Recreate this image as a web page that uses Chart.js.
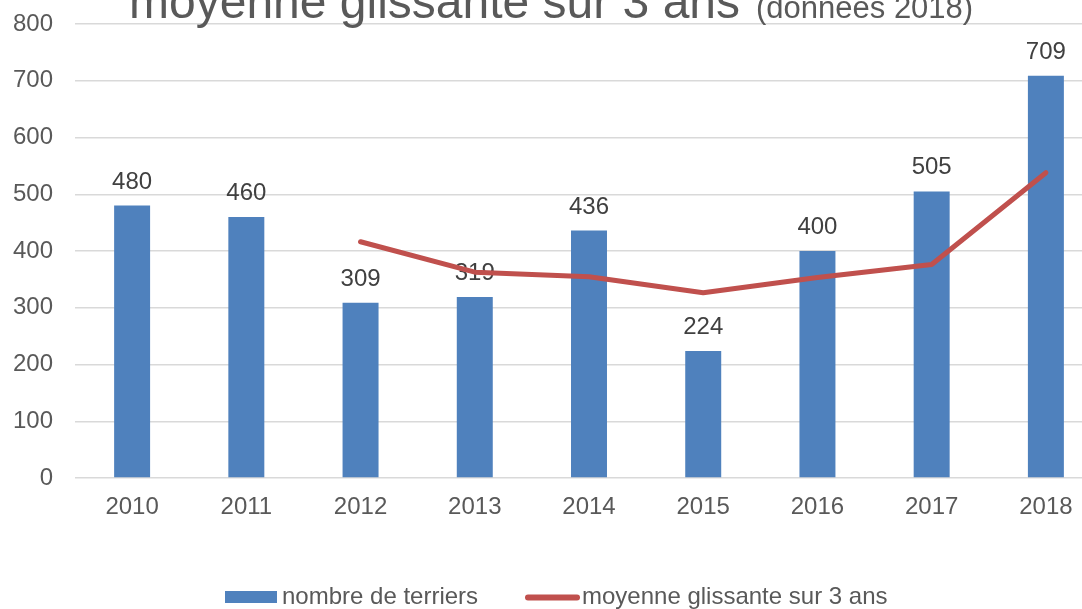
<!DOCTYPE html>
<html>
<head>
<meta charset="utf-8">
<script src="https://cdn.jsdelivr.net/npm/chart.js@4.4.1/dist/chart.umd.min.js"></script>
<style>
  html, body { margin: 0; padding: 0; background: #ffffff; overflow: hidden; width: 1082px; height: 609px; }
  #wrap { position: absolute; left: 0; top: 0; width: 1103px; height: 609px; }
</style>
</head>
<body>
<div id="wrap"><canvas id="c"></canvas></div>
<script>
const categories = ['2010', '2011', '2012', '2013', '2014', '2015', '2016', '2017', '2018'];
const burrowCounts = [480, 460, 309, 319, 436, 224, 400, 505, 709];
const movingAverage = [null, null, 416.3, 362.7, 354.7, 326.3, 353.3, 376.3, 538];
const yTicks = [0, 100, 200, 300, 400, 500, 600, 700, 800];
const seriesNames = ['nombre de terriers', 'moyenne glissante sur 3 ans'];
const titleMain = 'moyenne glissante sur 3 ans';
const titleSub = '(données 2018)';

const FONT = '"Liberation Sans", Arial, sans-serif';
const BLUE = '#4f81bd';
const RED = '#c0504d';
const GREY = '#595959';

const barLabels = {
  id: 'barLabels',
  afterDatasetDraw(chart, args) {
    if (args.index !== 0) return;
    const ctx = chart.ctx;
    const meta = chart.getDatasetMeta(0);
    ctx.save();
    ctx.font = '24px ' + FONT;
    ctx.fillStyle = '#404040';
    ctx.textAlign = 'center';
    ctx.textBaseline = 'alphabetic';
    meta.data.forEach((bar, i) => {
      ctx.fillText(String(burrowCounts[i]), bar.x, bar.y - 17);
    });
    ctx.restore();
  }
};

const decor = {
  id: 'decor',
  afterDraw(chart) {
    const ctx = chart.ctx;
    ctx.save();
    ctx.fillStyle = GREY;
    ctx.textAlign = 'left';
    ctx.textBaseline = 'alphabetic';
    ctx.font = '48px ' + FONT;
    ctx.fillText(titleMain, 129, 18);
    ctx.font = '31px ' + FONT;
    ctx.fillText(titleSub, 756, 18);
    ctx.fillStyle = BLUE;
    ctx.fillRect(225, 591, 52, 12);
    ctx.strokeStyle = RED;
    ctx.lineWidth = 6;
    ctx.lineCap = 'round';
    ctx.beginPath();
    ctx.moveTo(528, 597.5);
    ctx.lineTo(577, 597.5);
    ctx.stroke();
    ctx.fillStyle = GREY;
    ctx.font = '24px ' + FONT;
    ctx.fillText(seriesNames[0], 282, 604);
    ctx.fillText(seriesNames[1], 582, 604);
    ctx.restore();
  }
};

new Chart(document.getElementById('c'), {
  type: 'bar',
  data: {
    labels: categories,
    datasets: [
      {
        type: 'bar',
        label: seriesNames[0],
        data: burrowCounts,
        backgroundColor: BLUE,
        borderWidth: 0,
        categoryPercentage: 1,
        barPercentage: 0.315,
        order: 1
      },
      {
        type: 'line',
        label: seriesNames[1],
        data: movingAverage,
        borderColor: RED,
        backgroundColor: RED,
        borderWidth: 5,
        borderCapStyle: 'round',
        borderJoinStyle: 'round',
        pointRadius: 0,
        pointHoverRadius: 0,
        tension: 0,
        spanGaps: false,
        order: 0
      }
    ]
  },
  options: {
    responsive: true,
    maintainAspectRatio: false,
    animation: false,
    events: [],
    layout: { padding: { top: 24, right: 0, bottom: 51, left: 0 } },
    plugins: {
      legend: { display: false },
      title: { display: false },
      tooltip: { enabled: false }
    },
    scales: {
      x: {
        grid: { display: false, drawTicks: false },
        border: { display: false },
        ticks: { color: GREY, font: { size: 24, family: FONT }, padding: 15, maxRotation: 0 },
        afterFit(scale) { scale.height = 80; }
      },
      y: {
        min: 0,
        max: 800,
        afterBuildTicks(scale) { scale.ticks = yTicks.map(v => ({ value: v })); },
        grid: { color: '#d9d9d9', lineWidth: 1.5, drawTicks: true, tickLength: 22, tickColor: 'rgba(0,0,0,0)' },
        border: { display: false },
        ticks: { color: GREY, font: { size: 24, family: FONT }, padding: 0 },
        afterFit(scale) { scale.width = 75; }
      }
    }
  },
  plugins: [barLabels, decor]
});
</script>
</body>
</html>
